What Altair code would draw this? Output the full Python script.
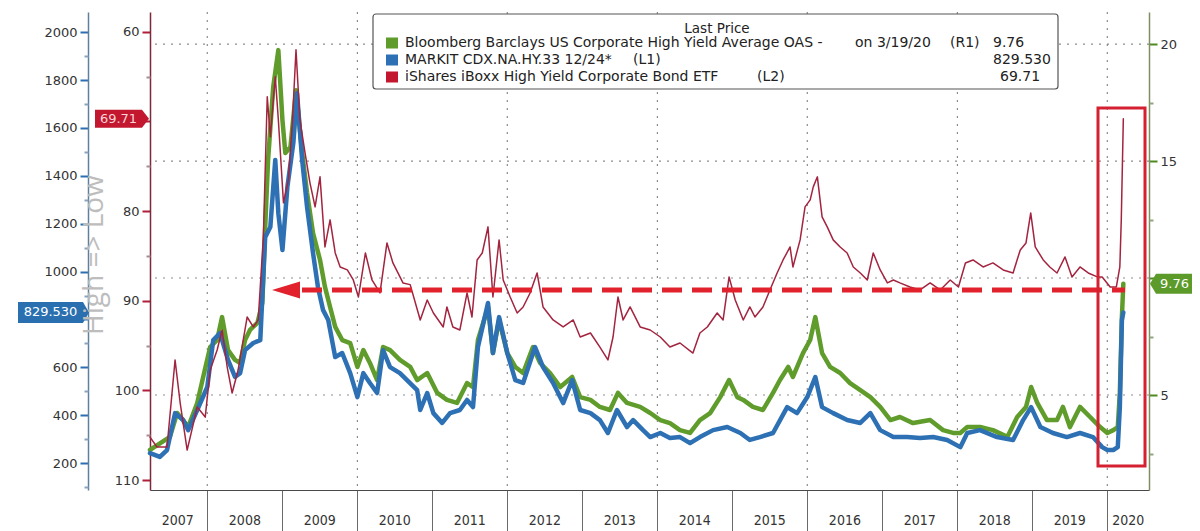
import altair as alt
import pandas as pd

# ---------------- data ----------------
OAS = [  # Bloomberg Barclays US Corporate High Yield Average OAS (R1)
    ("2007-03-28", 2.65), ("2007-07-03", 3.21), ("2007-08-07", 4.23), ("2007-09-05", 3.93),
    ("2007-09-30", 3.63), ("2007-11-13", 4.66), ("2007-12-12", 5.77),
    ("2008-01-15", 7.05), ("2008-02-18", 7.35), ("2008-03-13", 8.33), ("2008-04-11", 6.92),
    ("2008-05-15", 6.50), ("2008-06-09", 6.37), ("2008-07-03", 7.35), ("2008-07-27", 7.78),
    ("2008-09-01", 8.08), ("2008-09-25", 8.93), ("2008-10-09", 12.18), ("2008-10-23", 15.04),
    ("2008-11-17", 18.16), ("2008-12-12", 19.74),
    ("2009-01-01", 16.75), ("2009-01-15", 15.34), ("2009-02-09", 15.60), ("2009-03-08", 18.03),
    ("2009-04-07", 15.34), ("2009-05-01", 13.63), ("2009-05-30", 11.92), ("2009-07-03", 10.77),
    ("2009-07-27", 9.62), ("2009-08-21", 8.76), ("2009-09-15", 7.91), ("2009-10-19", 7.35),
    ("2009-11-27", 7.22),
    ("2010-01-01", 6.20), ("2010-01-30", 6.92), ("2010-03-03", 6.37), ("2010-04-07", 5.64),
    ("2010-05-06", 7.05), ("2010-06-09", 6.92), ("2010-07-27", 6.50), ("2010-09-15", 6.20),
    ("2010-10-19", 5.64), ("2010-12-07", 5.94),
    ("2011-01-25", 5.09), ("2011-03-13", 4.79), ("2011-05-01", 4.66), ("2011-06-19", 5.51),
    ("2011-07-18", 5.34), ("2011-08-11", 7.35), ("2011-09-29", 8.76), ("2011-10-23", 6.79),
    ("2011-11-22", 8.21),
    ("2012-01-01", 6.79), ("2012-02-09", 6.20), ("2012-03-18", 5.94), ("2012-05-05", 7.05),
    ("2012-06-09", 6.37), ("2012-07-27", 5.94), ("2012-09-15", 5.34), ("2012-11-12", 5.77),
    ("2012-12-21", 4.91),
    ("2013-02-09", 4.79), ("2013-03-27", 4.49), ("2013-05-15", 4.36), ("2013-06-23", 5.09),
    ("2013-08-06", 4.66), ("2013-10-09", 4.49), ("2013-11-27", 4.23),
    ("2014-01-15", 3.93), ("2014-03-03", 3.80), ("2014-04-21", 3.50), ("2014-06-09", 3.38),
    ("2014-07-27", 3.93), ("2014-09-15", 4.23), ("2014-11-03", 4.91), ("2014-12-16", 5.64),
    ("2015-01-25", 4.91), ("2015-02-23", 4.79), ("2015-04-11", 4.49), ("2015-05-30", 4.36),
    ("2015-07-18", 5.09), ("2015-08-21", 5.64), ("2015-09-30", 6.20), ("2015-10-23", 5.77),
    ("2015-12-11", 6.79),
    ("2016-01-15", 7.35), ("2016-02-09", 8.33), ("2016-03-13", 6.79), ("2016-04-21", 6.20),
    ("2016-06-09", 5.94), ("2016-07-27", 5.51), ("2016-09-15", 5.21), ("2016-11-03", 4.91),
    ("2016-12-21", 4.49),
    ("2017-02-09", 3.93), ("2017-03-27", 4.06), ("2017-05-30", 3.80), ("2017-08-21", 3.93),
    ("2017-10-23", 3.50), ("2017-12-11", 3.38),
    ("2018-01-15", 3.38), ("2018-02-18", 3.63), ("2018-04-21", 3.63), ("2018-06-23", 3.50),
    ("2018-09-01", 3.21), ("2018-10-19", 4.06), ("2018-12-01", 4.49), ("2018-12-26", 5.34),
    ("2019-01-25", 4.66), ("2019-03-13", 3.93), ("2019-05-01", 3.93), ("2019-05-30", 4.49),
    ("2019-07-03", 3.63), ("2019-08-21", 4.49), ("2019-10-09", 4.06), ("2019-11-27", 3.63),
    ("2020-01-01", 3.38), ("2020-01-30", 3.50), ("2020-02-21", 3.63), ("2020-03-02", 5.09),
    ("2020-03-12", 8.33), ("2020-03-19", 9.76),
]

CDX = [  # MARKIT CDX.NA.HY.33 12/24* (L1)
    ("2007-03-28", 242), ("2007-05-15", 226), ("2007-06-19", 255), ("2007-07-28", 409),
    ("2007-09-05", 380), ("2007-09-30", 338), ("2007-11-13", 422),
    ("2008-01-01", 518), ("2008-01-30", 714), ("2008-03-03", 743), ("2008-04-11", 631),
    ("2008-05-15", 560), ("2008-06-09", 576), ("2008-07-03", 672), ("2008-08-12", 702),
    ("2008-09-15", 714), ("2008-10-09", 1144), ("2008-11-03", 1186), ("2008-11-27", 1466),
    ("2008-12-12", 1244),
    ("2009-01-01", 1090), ("2009-01-25", 1353), ("2009-02-23", 1537), ("2009-03-13", 1745),
    ("2009-04-07", 1466), ("2009-05-01", 1269), ("2009-05-30", 1077), ("2009-06-23", 935),
    ("2009-07-18", 839), ("2009-08-12", 798), ("2009-09-15", 643), ("2009-10-19", 660),
    ("2009-11-27", 576),
    ("2010-01-01", 476), ("2010-01-30", 576), ("2010-03-03", 535), ("2010-04-07", 493),
    ("2010-05-06", 672), ("2010-06-09", 601), ("2010-07-27", 576), ("2010-10-19", 505),
    ("2010-11-03", 422), ("2010-12-07", 493),
    ("2011-01-06", 409), ("2011-02-18", 368), ("2011-03-28", 409), ("2011-05-15", 422),
    ("2011-06-19", 464), ("2011-07-18", 434), ("2011-08-11", 685), ("2011-09-29", 869),
    ("2011-10-23", 660), ("2011-11-22", 810),
    ("2012-01-01", 660), ("2012-02-09", 547), ("2012-03-18", 535), ("2012-05-15", 685),
    ("2012-06-23", 601), ("2012-08-11", 535), ("2012-09-29", 451), ("2012-11-12", 547),
    ("2012-12-21", 422),
    ("2013-02-09", 409), ("2013-03-27", 380), ("2013-05-05", 326), ("2013-06-18", 422),
    ("2013-08-06", 351), ("2013-09-05", 380), ("2013-10-23", 338), ("2013-11-27", 309),
    ("2014-01-15", 326), ("2014-03-03", 305), ("2014-04-21", 309), ("2014-06-09", 284),
    ("2014-07-27", 309), ("2014-09-29", 338), ("2014-12-07", 351),
    ("2015-02-09", 326), ("2015-03-27", 297), ("2015-05-15", 309), ("2015-07-18", 326),
    ("2015-09-25", 434), ("2015-11-12", 409),
    ("2016-01-01", 476), ("2016-02-09", 560), ("2016-03-13", 434), ("2016-05-06", 409),
    ("2016-07-13", 380), ("2016-09-15", 368), ("2016-11-03", 409), ("2016-12-21", 338),
    ("2017-02-23", 309), ("2017-05-01", 309), ("2017-07-03", 305), ("2017-09-05", 309),
    ("2017-11-12", 297),
    ("2018-01-15", 267), ("2018-02-18", 326), ("2018-04-21", 338), ("2018-07-13", 309),
    ("2018-09-29", 297), ("2018-11-17", 380), ("2018-12-26", 434),
    ("2019-02-09", 351), ("2019-04-11", 326), ("2019-06-18", 309), ("2019-08-21", 326),
    ("2019-10-23", 309), ("2019-12-07", 267),
    ("2020-01-01", 255), ("2020-01-30", 255), ("2020-02-21", 267), ("2020-03-02", 434),
    ("2020-03-12", 798), ("2020-03-19", 829.53),
]

HYG = [  # iShares iBoxx High Yield Corporate Bond ETF (L2)
    ("2007-03-28", 105.2), ("2007-05-01", 106.3), ("2007-06-19", 106.3), ("2007-07-28", 96.6),
    ("2007-08-22", 101.4), ("2007-09-25", 106.65), ("2007-11-13", 101.85), ("2007-12-22", 102.97),
    ("2008-01-15", 97.72), ("2008-02-18", 95.49), ("2008-03-13", 93.26), ("2008-04-07", 97.39),
    ("2008-05-01", 100.29), ("2008-05-30", 97.72), ("2008-07-13", 91.81), ("2008-08-12", 92.92),
    ("2008-09-05", 92.14), ("2008-09-30", 82.88), ("2008-10-19", 67.25), ("2008-11-03", 71.72),
    ("2008-11-27", 65.02), ("2008-12-12", 69.82),
    ("2009-01-06", 79.08), ("2009-01-30", 76.52), ("2009-02-19", 69.82), ("2009-03-08", 62.01),
    ("2009-03-27", 69.82), ("2009-04-21", 73.50), ("2009-05-15", 76.85), ("2009-06-09", 79.53),
    ("2009-07-03", 76.18), ("2009-07-27", 84.00), ("2009-08-21", 80.98), ("2009-09-15", 84.67),
    ("2009-10-09", 86.23), ("2009-11-13", 86.56), ("2009-12-12", 87.68),
    ("2010-01-06", 89.58), ("2010-02-09", 84.67), ("2010-03-13", 87.68), ("2010-04-21", 89.13),
    ("2010-05-25", 83.55), ("2010-06-23", 85.78), ("2010-08-11", 88.01), ("2010-09-15", 88.20),
    ("2010-11-03", 92.14), ("2010-12-07", 89.91),
    ("2011-01-06", 91.36), ("2011-02-23", 92.92), ("2011-03-13", 90.69), ("2011-04-11", 92.92),
    ("2011-05-15", 93.26), ("2011-06-19", 89.13), ("2011-07-13", 91.81), ("2011-08-07", 85.45),
    ("2011-09-01", 84.67), ("2011-09-29", 81.76), ("2011-10-23", 89.58), ("2011-11-22", 83.21),
    ("2011-12-12", 87.68),
    ("2012-01-15", 89.58), ("2012-02-18", 91.36), ("2012-03-18", 90.69), ("2012-04-21", 89.13),
    ("2012-05-25", 86.90), ("2012-06-23", 90.69), ("2012-08-11", 92.14), ("2012-09-29", 92.92),
    ("2012-11-17", 92.14), ("2012-12-21", 94.04),
    ("2013-02-09", 93.59), ("2013-03-27", 95.16), ("2013-05-05", 96.60), ("2013-05-30", 94.04),
    ("2013-06-23", 89.58), ("2013-07-18", 92.14), ("2013-08-21", 90.69), ("2013-10-09", 92.92),
    ("2013-11-27", 93.26),
    ("2014-01-15", 94.04), ("2014-03-03", 95.16), ("2014-04-21", 94.71), ("2014-06-23", 95.83),
    ("2014-07-27", 93.59), ("2014-09-01", 92.92), ("2014-10-19", 91.36), ("2014-11-17", 92.14),
    ("2014-12-16", 87.34),
    ("2015-01-15", 89.91), ("2015-02-23", 92.14), ("2015-03-27", 90.69), ("2015-04-21", 91.81),
    ("2015-05-30", 90.69), ("2015-07-03", 88.79), ("2015-08-07", 86.90), ("2015-09-05", 85.45),
    ("2015-10-09", 84.00), ("2015-10-23", 86.23), ("2015-11-27", 83.21), ("2015-12-21", 79.53),
    ("2016-01-15", 78.75), ("2016-01-30", 77.30), ("2016-02-19", 76.18), ("2016-03-13", 80.65),
    ("2016-04-07", 81.76), ("2016-05-06", 83.21), ("2016-06-09", 84.00), ("2016-07-13", 84.67),
    ("2016-08-12", 86.23), ("2016-09-15", 86.90), ("2016-10-19", 87.68), ("2016-11-17", 84.67),
    ("2016-12-21", 86.56),
    ("2017-01-25", 88.01), ("2017-02-23", 87.68), ("2017-03-27", 88.01), ("2017-05-15", 88.46),
    ("2017-07-03", 88.79), ("2017-08-21", 88.01), ("2017-10-09", 88.79), ("2017-11-27", 87.68),
    ("2018-01-06", 88.46), ("2018-02-09", 85.78), ("2018-03-18", 85.45), ("2018-05-06", 86.23),
    ("2018-06-23", 85.78), ("2018-08-12", 86.56), ("2018-09-29", 86.90), ("2018-11-03", 84.33),
    ("2018-12-01", 83.55), ("2018-12-24", 80.20),
    ("2019-01-15", 84.00), ("2019-02-23", 85.45), ("2019-03-27", 86.23), ("2019-05-01", 86.90),
    ("2019-06-09", 85.11), ("2019-07-13", 87.34), ("2019-08-21", 86.23), ("2019-09-30", 86.90),
    ("2019-11-13", 87.34), ("2019-12-07", 87.34),
    ("2020-01-15", 88.46), ("2020-02-14", 88.46), ("2020-03-02", 86.23), ("2020-03-09", 80.98),
    ("2020-03-19", 69.71),
]

OAS_LAST, CDX_LAST, HYG_LAST = 9.76, 829.53, 69.71

YEAR_LABELS = ["2007", "2008", "2009", "2010", "2011", "2012", "2013",
               "2014", "2015", "2016", "2017", "2018", "2019", "2020"]
YEAR_LABEL_DATES = ["2007-08-10", "2008-07-02", "2009-07-02", "2010-07-02", "2011-07-02",
                    "2012-07-02", "2013-07-02", "2014-07-02", "2015-07-02", "2016-07-02",
                    "2017-07-02", "2018-07-02", "2019-07-02", "2020-04-12"]
YEAR_TICKS = [2008, 2009, 2010, 2011, 2012, 2013, 2014, 2015, 2016, 2017, 2018, 2019, 2020]
VGRID_DATES = ["2008-01-01", "2010-01-01", "2012-01-01", "2014-01-01", "2016-01-01",
               "2018-01-01", "2020-01-01"]
HGRID_OAS = [5, 10, 15, 20]

CDX_MAJOR = [200, 400, 600, 800, 1000, 1200, 1400, 1600, 1800, 2000]
CDX_MINOR = [100, 300, 500, 700, 900, 1100, 1300, 1500, 1700, 1900]
HYG_MAJOR = [60, 70, 80, 90, 100, 110]
HYG_MINOR = [65, 75, 85, 95, 105]
OAS_MAJOR = [5, 10, 15, 20]
OAS_MINOR = [2.5, 7.5, 12.5, 17.5]

LEGEND_TITLE = "Last Price"
LEGEND_ROWS = [
    ("Bloomberg Barclays US Corporate High Yield Average OAS -", "on 3/19/20", "(R1)", "9.76"),
    ("MARKIT CDX.NA.HY.33 12/24*", "", "(L1)", "829.530"),
    ("iShares iBoxx High Yield Corporate Bond ETF", "", "(L2)", "69.71"),
]

# ---------------- styling ----------------
W, H = 999, 478
FONT = "DejaVu Sans"
GREEN = "#5f9c2b"
BLUE = "#2d70b3"
RED_LINE = "#a3243f"
RED_TAG = "#c3172f"
ARROW_RED = "#e1222c"
GRID = "#8c8c8c"

x_scale = alt.Scale(domain=[alt.DateTime(year=2007, month=3, date=28, utc=True),
                            alt.DateTime(year=2020, month=7, date=22, utc=True)])
x_axis = alt.Axis(values=[alt.DateTime(year=y, month=1, date=1, utc=True) for y in YEAR_TICKS],
                  labels=False, title=None, tickSize=41, tickColor="#6a6a6a", tickWidth=1,
                  domainColor="#4a4a4a", domainWidth=1.2, grid=False)
X = alt.X("date:T", scale=x_scale, axis=x_axis)

oas_scale = alt.Scale(domain=[0.94, 21.37], nice=False, zero=False)
cdx_scale = alt.Scale(domain=[88, 2084], nice=False, zero=False)
hyg_scale = alt.Scale(domain=[57.8, 111.1], reverse=True, nice=False, zero=False)


def major_axis(orient, offset, values, hidden, tick_color, domain_color):
    return alt.Axis(orient=orient, offset=offset, values=values, title=None, format="d",
                    labelExpr=f"datum.value === {hidden} ? '' : datum.label",
                    tickSize=8, tickWidth=2, tickColor=tick_color,
                    domainColor=domain_color, domainWidth=1.5,
                    labelFont=FONT, labelFontSize=13, labelColor="#333", labelPadding=3,
                    grid=False)


def minor_axis(orient, offset, values, tick_color):
    return alt.Axis(orient=orient, offset=offset, values=values, title=None, labels=False,
                    domain=False, tickSize=4, tickWidth=2, tickColor=tick_color, grid=False)


oas_axis = major_axis("right", 0, OAS_MAJOR, 10, "#4d8a1f", "#7f8f5f")
cdx_axis = major_axis("left", 62, CDX_MAJOR, 800, "#2c6fb0", "#5f7f9f")
hyg_axis = major_axis("left", 0, HYG_MAJOR, 70, "#b01e3a", "#7a2a3a")

TAG_LEFT = "M-1,0 L-0.72,-0.465 L1,-0.465 L1,0.465 L-0.72,0.465 Z"
TAG_RIGHT_RED = "M1,0 L0.74,-0.333 L-1,-0.333 L-1,0.333 L0.74,0.333 Z"
TAG_RIGHT_BLUE = "M1,0 L0.83,-0.296 L-1,-0.296 L-1,0.296 L0.83,0.296 Z"
ARROW = "M-1,0 L1,-0.6 L1,0.6 Z"

anchor = pd.DataFrame({"k": [0]})
layers = []

# gridlines
vg = pd.DataFrame({"date": VGRID_DATES})
layers.append(alt.Chart(vg).mark_rule(color=GRID, strokeDash=[2, 6], strokeWidth=1.2).encode(x=X))
hg = pd.DataFrame({"v": HGRID_OAS})
layers.append(alt.Chart(hg).mark_rule(color=GRID, strokeDash=[2, 6], strokeWidth=1.2).encode(
    y=alt.Y("v:Q", scale=oas_scale, axis=None)))


def add_series(rows, color, width, scale, axis):
    df = pd.DataFrame(rows, columns=["date", "v"])
    layers.append(alt.Chart(df).mark_line(color=color, strokeWidth=width, strokeJoin="round",
                                          strokeCap="round").encode(
        x=X, y=alt.Y("v:Q", scale=scale, axis=axis)))


def add_minor(values, scale, axis):
    df = pd.DataFrame({"v": values})
    layers.append(alt.Chart(df).mark_point(opacity=0).encode(
        y=alt.Y("v:Q", scale=scale, axis=axis)))


def add_tag(last, label, scale, shape, size, tag_x, text_x, tag_color, text_color):
    tdf = pd.DataFrame({"v": [last], "t": [label]})
    ty = alt.Y("v:Q", scale=scale, axis=None)
    layers.append(alt.Chart(tdf).mark_point(shape=shape, filled=True, size=size,
                                            color=tag_color, opacity=1, strokeWidth=0).encode(
        x=alt.value(tag_x), y=ty))
    layers.append(alt.Chart(tdf).mark_text(font=FONT, fontSize=13, color=text_color,
                                           align="center", baseline="middle").encode(
        x=alt.value(text_x), y=ty, text="t:N"))


add_series(OAS, GREEN, 4.5, oas_scale, oas_axis)
add_series(CDX, BLUE, 4.5, cdx_scale, cdx_axis)
add_series(HYG, RED_LINE, 1.5, hyg_scale, hyg_axis)
add_minor(OAS_MINOR, oas_scale, minor_axis("right", 0, OAS_MINOR, "#93a57c"))
add_minor(CDX_MINOR, cdx_scale, minor_axis("left", 62, CDX_MINOR, "#8aa2bd"))
add_minor(HYG_MINOR, hyg_scale, minor_axis("left", 0, HYG_MINOR, "#a88a92"))
add_tag(OAS_LAST, f"{OAS_LAST:.2f}", oas_scale, TAG_LEFT, 43 * 43, 1021.5, 1024.5,
        "#5c9a2a", "white")
add_tag(CDX_LAST, f"{CDX_LAST:.3f}", cdx_scale, TAG_RIGHT_BLUE, 71 * 71, -96.5, -99.5,
        "#2a6fb0", "white")
add_tag(HYG_LAST, f"{HYG_LAST:.2f}", hyg_scale, TAG_RIGHT_RED, 54 * 54, -28, -31.5,
        RED_TAG, "#f6d3d9")


def text_at(txt, x, y, size=14, color="#222", align="left", font=FONT, **kw):
    return alt.Chart(anchor).mark_text(text=txt, align=align, baseline="middle",
                                       fontSize=size, color=color, font=font, **kw).encode(
        x=alt.value(x), y=alt.value(y))


# dashed arrow + highlight box
layers.append(alt.Chart(anchor).mark_rule(color=ARROW_RED, strokeWidth=5,
                                          strokeDash=[20, 10]).encode(
    x=alt.value(152), x2=alt.value(975), y=alt.value(278)))
layers.append(alt.Chart(anchor).mark_point(shape=ARROW, filled=True, size=28 * 28,
                                           color=ARROW_RED, opacity=1, strokeWidth=0).encode(
    x=alt.value(136), y=alt.value(278)))
layers.append(alt.Chart(anchor).mark_rect(filled=False, color="#d42030", strokeWidth=3).encode(
    x=alt.value(948), x2=alt.value(995), y=alt.value(96), y2=alt.value(454)))

# year labels under the axis
ydf = pd.DataFrame({"date": YEAR_LABEL_DATES, "t": YEAR_LABELS})
layers.append(alt.Chart(ydf).mark_text(font="DejaVu Sans Condensed", fontSize=14, color="#333",
                                       align="center", baseline="middle").encode(
    x=X, y=alt.value(509), text="t:N"))

layers.append(text_at("High => Low", -55, 243, size=28, color="#bdbdbd", align="center",
                      font="Open Sans", angle=270))

# legend
layers.append(alt.Chart(anchor).mark_rect(fill="white", stroke="#555", strokeWidth=1.2,
                                          cornerRadius=3).encode(
    x=alt.value(223), x2=alt.value(908), y=alt.value(2), y2=alt.value(77)))
layers.append(text_at(LEGEND_TITLE, 567, 17, size=13.5, align="center"))
row_y = [31, 48, 65]
row_col = [GREEN, BLUE, RED_TAG]
label_x = [(255, 705, 800, 843), (255, None, 483, 843), (255, None, 607, 850)]
for (a, b, c, d), yy, col, xs in zip(LEGEND_ROWS, row_y, row_col, label_x):
    layers.append(alt.Chart(anchor).mark_rect(color=col).encode(
        x=alt.value(236), x2=alt.value(248), y=alt.value(yy - 5.5), y2=alt.value(yy + 5.5)))
    layers.append(text_at(a, xs[0], yy))
    if b:
        layers.append(text_at(b, xs[1], yy))
    layers.append(text_at(c, xs[2], yy))
    layers.append(text_at(d, xs[3], yy))

chart = alt.layer(*layers).resolve_scale(y="independent").properties(
    width=W, height=H,
    autosize=alt.AutoSizeParams(type="none"),
    padding={"left": 142, "top": 4, "right": 43, "bottom": 41},
    background="white",
).configure_view(stroke=None)

chart.save("out.html", embed_options={"renderer": "svg", "actions": False})
